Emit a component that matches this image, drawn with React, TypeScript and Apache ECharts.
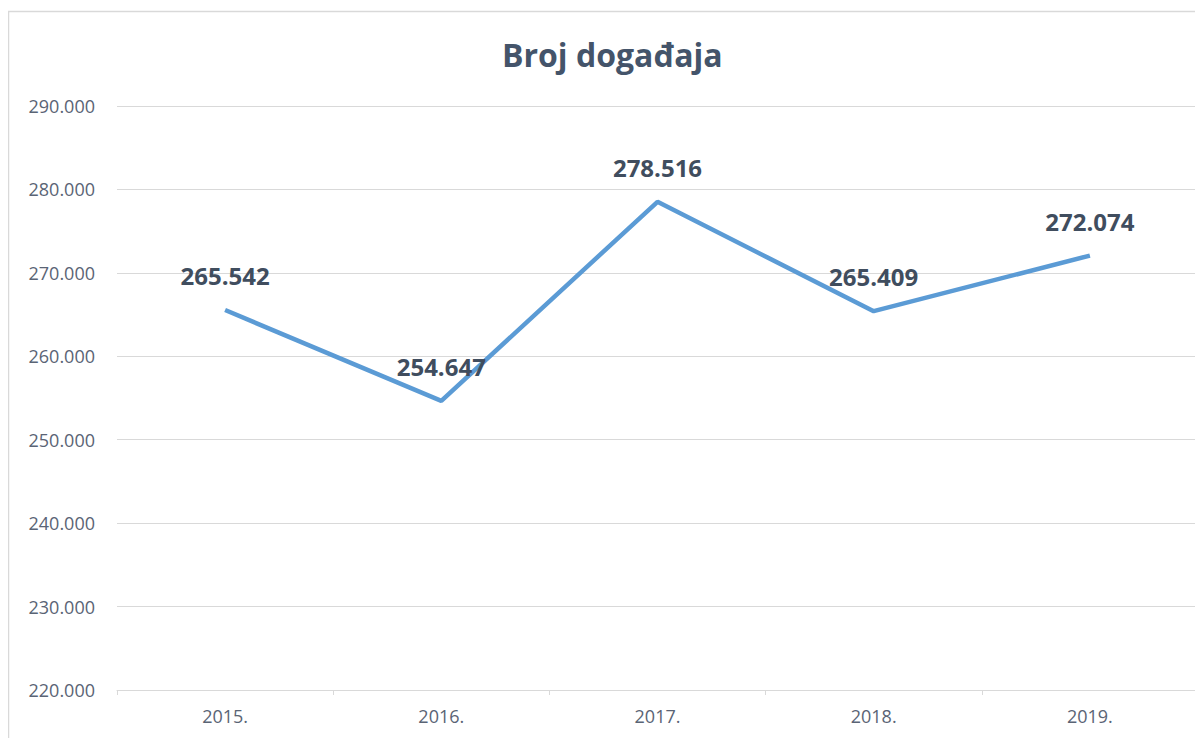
import React, { useEffect, useRef } from "react";
import * as echarts from "echarts";

const titleText = "Broj događaja";
const categories = ["2015.", "2016.", "2017.", "2018.", "2019."];
const values = [265542, 254647, 278516, 265409, 272074];
const yMin = 220000;
const yMax = 290000;
const yInterval = 10000;

const fmt = (v: number) => {
  const s = Math.round(v).toString();
  return s.replace(/\B(?=(\d{3})+(?!\d))/g, ".");
};

export default function App() {
  const ref = useRef<HTMLDivElement>(null);
  useEffect(() => {
    if (!ref.current) return;
    const chart = echarts.init(ref.current, undefined, { renderer: "svg" });
    const font = "'Open Sans', 'Liberation Sans', sans-serif";
    chart.setOption({
      animation: false,
      backgroundColor: "#ffffff",
      title: {
        text: titleText,
        left: 489,
        top: 25,
        textStyle: {
          fontFamily: font,
          fontSize: 32,
          fontWeight: "bold",
          color: "#44546A",
        },
      },
      graphic: [
        {
          type: "rect",
          shape: { x: 0.5, y: 3.5, width: 1300, height: 900 },
          style: { fill: "none", stroke: "#D9D9D9", lineWidth: 1.5 },
          silent: true,
        },
      ],
      grid: { left: 109, right: 5, top: 98, bottom: 48 },
      xAxis: {
        type: "category",
        data: categories,
        boundaryGap: true,
        axisLine: { show: true, lineStyle: { color: "#D9D9D9", width: 1 } },
        axisTick: { show: true, length: 5, lineStyle: { color: "#D9D9D9" } },
        axisLabel: {
          margin: 17,
          fontFamily: font,
          fontSize: 18,
          color: "#5A6475",
        },
        splitLine: { show: false },
      },
      yAxis: {
        type: "value",
        min: yMin,
        max: yMax,
        interval: yInterval,
        axisLine: { show: false },
        axisTick: { show: false },
        axisLabel: {
          margin: 22,
          fontFamily: font,
          fontSize: 18,
          color: "#5A6475",
          formatter: (v: number) => fmt(v),
        },
        splitLine: { show: true, lineStyle: { color: "#D9D9D9", width: 1 } },
      },
      series: [
        {
          type: "line",
          data: values,
          symbol: "circle",
          symbolSize: 1,
          showSymbol: true,
          itemStyle: { color: "rgba(0,0,0,0)", borderWidth: 0 },
          lineStyle: { color: "#5B9BD5", width: 4.5 },
          label: {
            show: true,
            position: "top",
            distance: 22,
            fontFamily: font,
            fontSize: 24,
            fontWeight: "bold",
            color: "#404D5E",
            formatter: (p: any) => fmt(p.value),
          },
        },
      ],
    });
    return () => chart.dispose();
  }, []);
  return <div ref={ref} style={{ width: 1195, height: 730 }} />;
}
